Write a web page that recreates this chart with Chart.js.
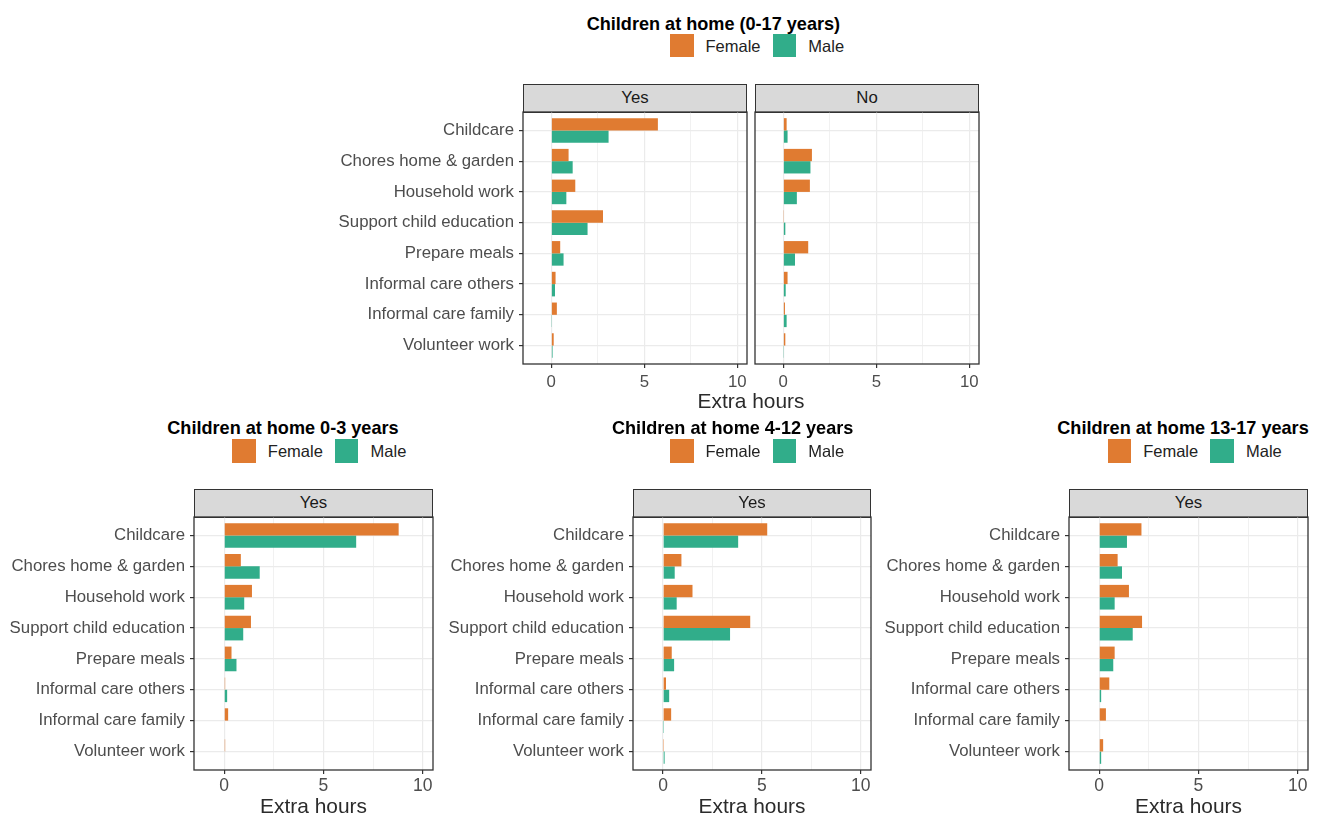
<!DOCTYPE html>
<html>
<head>
<meta charset="utf-8">
<script src="https://cdn.jsdelivr.net/npm/chart.js@4.4.1/dist/chart.umd.min.js"></script>
<style>
  html, body { margin: 0; padding: 0; background: #fff; overflow: hidden; }
  body { width: 1320px; height: 815px; position: relative; font-family: "Liberation Sans", Arial, sans-serif; }
  .txt { position: absolute; white-space: nowrap; }
  .key { position: absolute; }
  .strip { position: absolute; background: #D9D9D9; border: 1.3px solid #333; box-sizing: border-box; }
  canvas { position: absolute; }
</style>
</head>
<body>
<script>
// ---- data -------------------------------------------------------------
const categories = [
  'Childcare', 'Chores home & garden', 'Household work', 'Support child education',
  'Prepare meals', 'Informal care others', 'Informal care family', 'Volunteer work'
];
const seriesNames = ['Female', 'Male'];
const xTickValues = [0, 2.5, 5, 7.5, 10];   // major at 0/5/10, minor grid between
const xLabelledTicks = [0, 5, 10];

// Children at home 0-17 years
const all017YesFemale = [5.73, 0.93, 1.29, 2.78, 0.48, 0.23, 0.30, 0.13];
const all017YesMale   = [3.08, 1.15, 0.81, 1.95, 0.66, 0.20, 0.02, 0.07];
const all017NoFemale  = [0.18, 1.54, 1.43, 0.02, 1.34, 0.23, 0.09, 0.11];
const all017NoMale    = [0.23, 1.46, 0.73, 0.11, 0.63, 0.13, 0.18, 0.02];
// Children at home 0-3 years
const age03Female = [8.79, 0.84, 1.40, 1.35, 0.37, 0.05, 0.20, 0.05];
const age03Male   = [6.65, 1.79, 1.01, 0.96, 0.62, 0.15, 0.00, -0.03];
// Children at home 4-12 years
const age412Female = [5.27, 0.93, 1.49, 4.41, 0.44, 0.15, 0.41, 0.01];
const age412Male   = [3.80, 0.59, 0.69, 3.39, 0.56, 0.31, 0.01, 0.08];
// Children at home 13-17 years
const age1317Female = [2.13, 0.93, 1.50, 2.16, 0.78, 0.51, 0.34, 0.20];
const age1317Male   = [1.40, 1.15, 0.78, 1.69, 0.71, 0.10, 0.03, 0.10];

// ---- styling ----------------------------------------------------------
const FONT = '"Liberation Sans", Arial, sans-serif';
const FEMALE_COLOR = '#E07B31';
const MALE_COLOR = '#31AD8A';
const GRID = '#EBEBEB';
const DARK = '#333333';
const X_MIN = -1.52, X_MAX = 10.52;

function addText(text, x, baseline, size, opts = {}) {
  const d = document.createElement('div');
  d.className = 'txt';
  d.textContent = text;
  d.style.fontSize = size + 'px';
  d.style.lineHeight = size + 'px';
  d.style.top = (baseline - 0.8465 * size) + 'px';
  d.style.left = x + 'px';
  d.style.color = opts.color || '#1A1A1A';
  if (opts.bold) d.style.fontWeight = 'bold';
  if (opts.center) d.style.transform = 'translateX(-50%)';
  document.body.appendChild(d);
}

function addKey(color, x, y) {
  const d = document.createElement('div');
  d.className = 'key';
  Object.assign(d.style, { left: x + 'px', top: y + 'px', width: '23.5px', height: '23.5px', background: color });
  document.body.appendChild(d);
}

function addLegend(title, g) {
  addText(title, g.titleLeft, g.titleBase, 18.1, { bold: true, color: '#000' });
  addKey(FEMALE_COLOR, g.key1, g.keyTop);
  addText(seriesNames[0], g.key1 + 35.5, g.textBase, 16.5, { color: '#222' });
  addKey(MALE_COLOR, g.key1 + 102.5, g.keyTop);
  addText(seriesNames[1], g.key1 + 138.3, g.textBase, 16.5, { color: '#222' });
}

const panelBorder = {
  id: 'panelBorder',
  afterDatasetsDraw(chart) {
    const a = chart.chartArea, ctx = chart.ctx;
    ctx.save();
    ctx.strokeStyle = DARK;
    ctx.lineWidth = 1.3;
    ctx.strokeRect(a.left, a.top, a.right - a.left, a.bottom - a.top);
    ctx.restore();
  }
};

function addPanel(p) {
  const PAD_L = 10, PAD_T = 20, PAD_R = 20, X_AXIS_H = 34;
  const yAxisW = p.showLabels ? 200 : 0;
  const plotW = p.right - p.left, plotH = p.bottom - p.top;

  // facet strip
  const s = document.createElement('div');
  s.className = 'strip';
  Object.assign(s.style, { left: p.left + 'px', top: p.stripTop + 'px', width: plotW + 'px', height: (p.top - p.stripTop + 0.7) + 'px' });
  document.body.appendChild(s);
  addText(p.strip, (p.left + p.right) / 2, (p.stripTop + p.top) / 2 + 0.358 * 16.8, 16.8, { center: true });

  const cv = document.createElement('canvas');
  cv.width = PAD_L + yAxisW + plotW + PAD_R;
  cv.height = PAD_T + plotH + X_AXIS_H;
  cv.style.left = (p.left - yAxisW - PAD_L) + 'px';
  cv.style.top = (p.top - PAD_T) + 'px';
  document.body.appendChild(cv);

  const isMajor = c => c.tick && xLabelledTicks.includes(c.tick.value);

  new Chart(cv, {
    type: 'bar',
    data: {
      datasets: [
        { label: seriesNames[0], data: categories.map((c, i) => ({ x: p.female[i], y: i })), backgroundColor: FEMALE_COLOR },
        { label: seriesNames[1], data: categories.map((c, i) => ({ x: p.male[i], y: i })), backgroundColor: MALE_COLOR }
      ]
    },
    options: {
      indexAxis: 'y',
      responsive: false,
      animation: false,
      devicePixelRatio: 1,
      layout: { padding: { left: PAD_L, top: PAD_T, right: PAD_R, bottom: 0 } },
      datasets: { bar: { categoryPercentage: 0.8, barPercentage: 1, borderWidth: 0 } },
      plugins: { legend: { display: false }, tooltip: { enabled: false }, title: { display: false } },
      scales: {
        x: {
          type: 'linear', min: X_MIN, max: X_MAX, bounds: 'data', offset: false,
          afterBuildTicks: sc => { sc.ticks = xTickValues.map(v => ({ value: v })); },
          afterFit: sc => { sc.height = X_AXIS_H; },
          border: { display: false },
          grid: {
            offset: false,
            color: GRID,
            lineWidth: c => isMajor(c) ? 1.2 : 0.7,
            drawTicks: true, tickLength: 4, tickWidth: 1.2,
            tickColor: c => isMajor(c) ? DARK : 'rgba(0,0,0,0)'
          },
          ticks: {
            autoSkip: false, maxRotation: 0, padding: p.tickPad, color: '#4D4D4D',
            font: { family: FONT, size: p.tickSize },
            callback: v => xLabelledTicks.includes(v) ? String(v) : ''
          }
        },
        y: {
          type: 'linear', reverse: true, min: -0.6, max: categories.length - 1 + 0.6, bounds: 'data', offset: false,
          afterBuildTicks: sc => { sc.ticks = categories.map((c, i) => ({ value: i })); },
          afterFit: sc => { sc.width = yAxisW; },
          border: { display: false },
          grid: { offset: false, color: GRID, lineWidth: 1.2, drawTicks: p.showLabels, tickLength: 4, tickWidth: 1.2, tickColor: DARK },
          ticks: {
            display: p.showLabels, autoSkip: false, padding: 5, color: '#4D4D4D',
            font: { family: FONT, size: 16.8 },
            callback: v => categories[v]
          }
        }
      }
    },
    plugins: [panelBorder]
  });

  if (p.axisTitle) addText('Extra hours', (p.left + p.right) / 2, p.axisTitleBase, 20.9, { center: true, color: '#2B2B2B' });
}

// ---- top row: 0-17 years, Yes / No ------------------------------------
addLegend('Children at home (0-17 years)', { titleLeft: 586.7, titleBase: 30.5, key1: 670, keyTop: 33.5, textBase: 51.7 });
addPanel({ strip: 'Yes', left: 523, right: 747, stripTop: 84, top: 112, bottom: 364, showLabels: true, tickSize: 16.8, tickPad: 4,
           female: all017YesFemale, male: all017YesMale });
addPanel({ strip: 'No', left: 755, right: 979, stripTop: 84, top: 112, bottom: 364, showLabels: false, tickSize: 16.8, tickPad: 4,
           female: all017NoFemale, male: all017NoMale });
addText('Extra hours', 751, 408.3, 20.9, { center: true, color: '#2B2B2B' });

// ---- bottom row: age groups ------------------------------------------
addLegend('Children at home 0-3 years', { titleLeft: 167.3, titleBase: 434.5, key1: 232.3, keyTop: 439, textBase: 456.7 });
addPanel({ strip: 'Yes', left: 194, right: 433, stripTop: 489, top: 517, bottom: 770, showLabels: true, tickSize: 17.5, tickPad: 2,
           female: age03Female, male: age03Male, axisTitle: true, axisTitleBase: 813.3 });

addLegend('Children at home 4-12 years', { titleLeft: 612, titleBase: 434.5, key1: 670, keyTop: 439, textBase: 456.7 });
addPanel({ strip: 'Yes', left: 633, right: 871, stripTop: 489, top: 517, bottom: 770, showLabels: true, tickSize: 17.5, tickPad: 2,
           female: age412Female, male: age412Male, axisTitle: true, axisTitleBase: 813.3 });

addLegend('Children at home 13-17 years', { titleLeft: 1057.3, titleBase: 434.5, key1: 1107.7, keyTop: 439, textBase: 456.7 });
addPanel({ strip: 'Yes', left: 1069, right: 1308, stripTop: 489, top: 517, bottom: 770, showLabels: true, tickSize: 17.5, tickPad: 2,
           female: age1317Female, male: age1317Male, axisTitle: true, axisTitleBase: 813.3 });
</script>
</body>
</html>
